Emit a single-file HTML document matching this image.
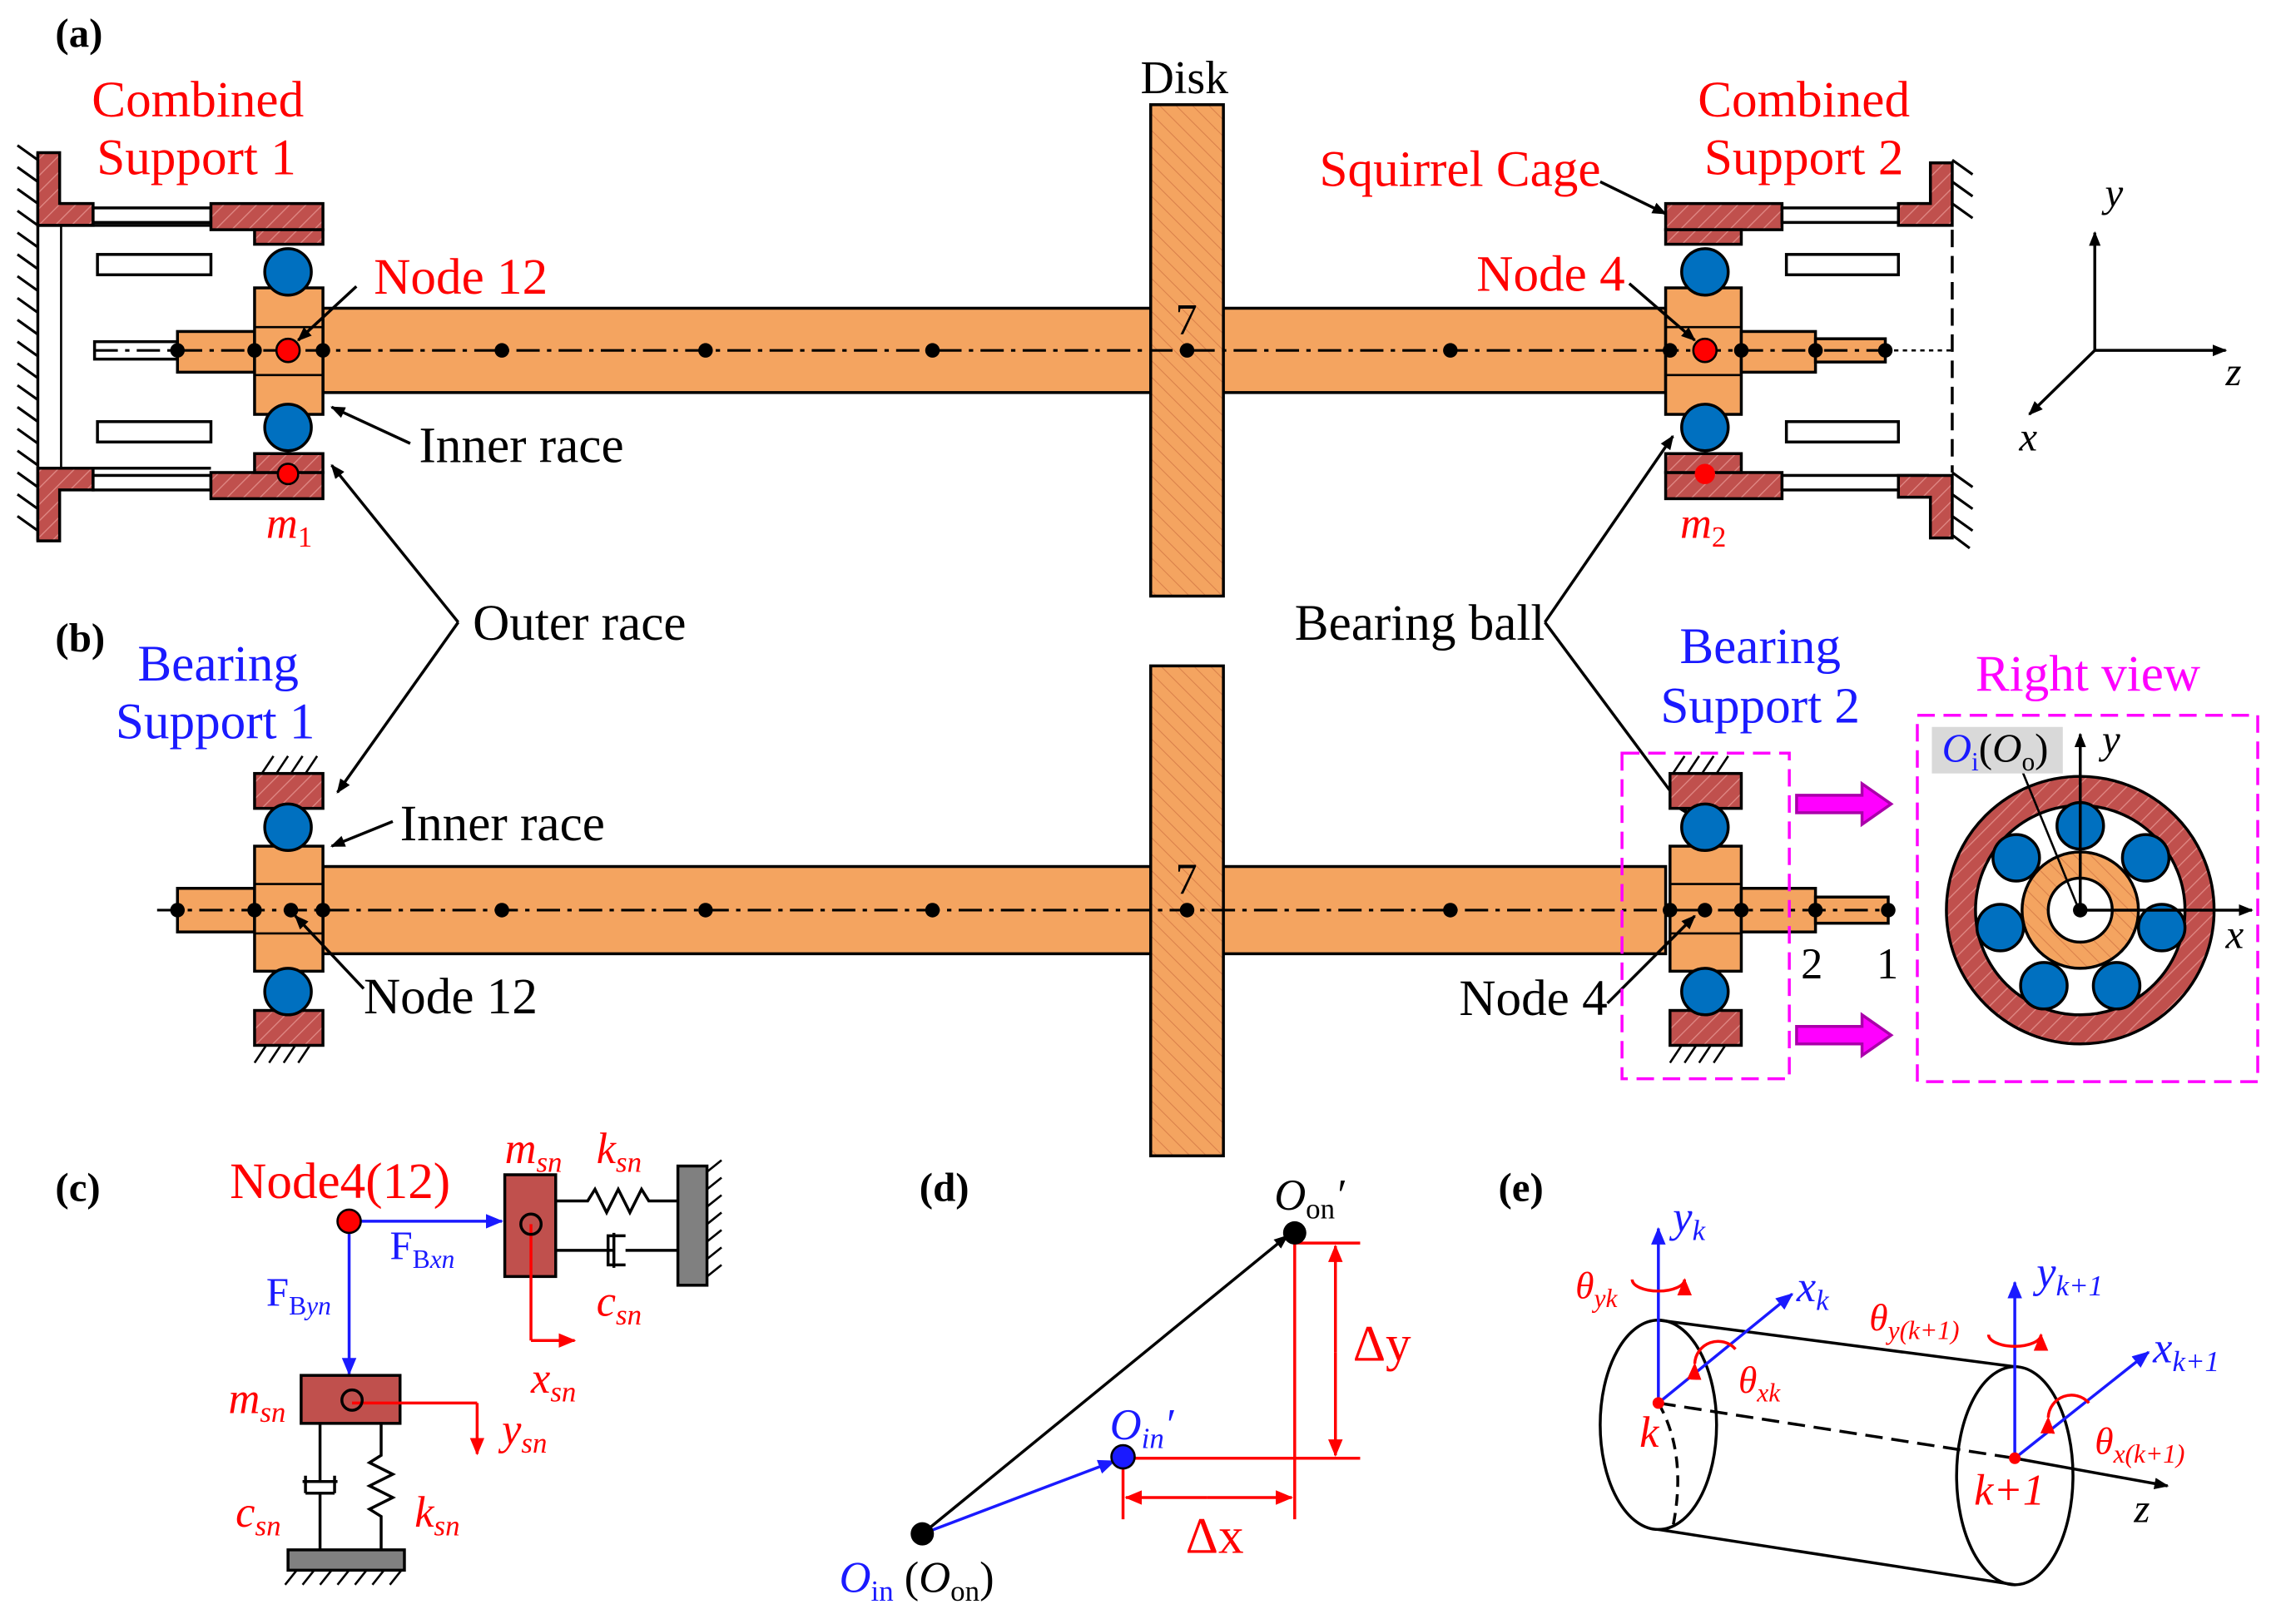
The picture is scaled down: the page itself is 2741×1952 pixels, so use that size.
<!DOCTYPE html>
<html><head><meta charset="utf-8"><style>
html,body{margin:0;padding:0;background:#fff}
svg{display:block}
text{font-family:"Liberation Serif",serif}
</style></head><body>
<svg width="2741" height="1952" viewBox="0 0 1568 1117" preserveAspectRatio="none" xmlns="http://www.w3.org/2000/svg">
<defs>
<pattern id="hb" width="8" height="8" patternUnits="userSpaceOnUse" patternTransform="rotate(45)">
<rect width="8" height="8" fill="#c0504d"/><line x1="0" y1="0" x2="0" y2="8" stroke="#e08a86" stroke-width="1.5"/></pattern>
<pattern id="ho" width="8" height="8" patternUnits="userSpaceOnUse" patternTransform="rotate(-45)">
<rect width="8" height="8" fill="#f4a460"/><line x1="0" y1="0" x2="0" y2="8" stroke="#d9804a" stroke-width="1.2"/></pattern>
<marker id="ak" markerWidth="10" markerHeight="10" refX="9" refY="5" orient="auto" markerUnits="userSpaceOnUse"><path d="M0,1 L10,5 L0,9z" fill="#000"/></marker>
<marker id="ab" markerWidth="12" markerHeight="12" refX="11" refY="6" orient="auto" markerUnits="userSpaceOnUse"><path d="M0,1 L12,6 L0,11z" fill="#1a1aff"/></marker>
<marker id="ar" markerWidth="12" markerHeight="12" refX="11" refY="6" orient="auto" markerUnits="userSpaceOnUse"><path d="M0,1 L12,6 L0,11z" fill="#f00"/></marker>
</defs>
<g stroke="#000" stroke-width="2">
<!-- ===== (a) ===== -->
<line x1="26" y1="105" x2="26" y2="372"/>
<g stroke-width="1.8">
<path d="M12,100 l14,10 M12,115 l14,10 M12,130 l14,10 M12,145 l14,10 M12,160 l14,10 M12,175 l14,10 M12,190 l14,10 M12,205 l14,10 M12,220 l14,10 M12,235 l14,10 M12,250 l14,10 M12,265 l14,10 M12,280 l14,10 M12,295 l14,10 M12,310 l14,10 M12,325 l14,10 M12,340 l14,10 M12,355 l14,10"/>
<path d="M1342,110 l14,10 M1342,125 l14,10 M1342,140 l14,10 M1342,325 l14,10 M1342,340 l14,10 M1342,355 l14,10 M1342,368 l12,9"/>
</g>
<path d="M26,105 h15 v35 h23 v15 h-38z" fill="url(#hb)"/>
<path d="M26,372 h15 v-35 h23 v-15 h-38z" fill="url(#hb)"/>
<line x1="26" y1="155" x2="145" y2="155"/>
<line x1="26" y1="322" x2="145" y2="322"/>
<rect x="64" y="143" width="81" height="10" fill="#fff"/>
<rect x="64" y="327" width="81" height="10" fill="#fff"/>
<rect x="145" y="140" width="77" height="18" fill="url(#hb)"/>
<rect x="145" y="325" width="77" height="18" fill="url(#hb)"/>
<rect x="175" y="158" width="47" height="10" fill="url(#hb)"/>
<rect x="175" y="312" width="47" height="13" fill="url(#hb)"/>
<rect x="67" y="175" width="78" height="14" fill="#fff"/>
<rect x="67" y="290" width="78" height="14" fill="#fff"/>
<rect x="65" y="235" width="57" height="12" fill="#fff"/>
<line x1="42" y1="155" x2="42" y2="322" stroke-width="1.5"/>
<rect x="122" y="228" width="53" height="28" fill="#f4a460"/>
<rect x="222" y="212" width="923" height="58" fill="#f4a460"/>
<rect x="175" y="198" width="47" height="87" fill="#f4a460"/>
<line x1="175" y1="225" x2="222" y2="225" stroke-width="1.5"/><line x1="175" y1="258" x2="222" y2="258" stroke-width="1.5"/>
<rect x="1145" y="198" width="52" height="87" fill="#f4a460"/>
<line x1="1145" y1="225" x2="1197" y2="225" stroke-width="1.5"/><line x1="1145" y1="258" x2="1197" y2="258" stroke-width="1.5"/>
<rect x="1197" y="228" width="51" height="28" fill="#f4a460"/>
<rect x="1248" y="233" width="48" height="16" fill="#f4a460"/>
<rect x="791" y="72" width="50" height="338" fill="url(#ho)"/>
<circle cx="198" cy="187" r="16" fill="#0070c0"/><circle cx="198" cy="294" r="16" fill="#0070c0"/>
<circle cx="1172" cy="187" r="16" fill="#0070c0"/><circle cx="1172" cy="294" r="16" fill="#0070c0"/>
<rect x="1145" y="140" width="80" height="18" fill="url(#hb)"/>
<rect x="1145" y="325" width="80" height="18" fill="url(#hb)"/>
<rect x="1145" y="158" width="52" height="10" fill="url(#hb)"/>
<rect x="1145" y="312" width="52" height="13" fill="url(#hb)"/>
<rect x="1225" y="143" width="100" height="10" fill="#fff"/>
<rect x="1225" y="327" width="100" height="10" fill="#fff"/>
<path d="M1342,112 h-15 v28 h-22 v15 h37z" fill="url(#hb)"/>
<path d="M1342,370 h-15 v-28 h-22 v-15 h37z" fill="url(#hb)"/>
<rect x="1228" y="175" width="77" height="14" fill="#fff"/>
<rect x="1228" y="290" width="77" height="14" fill="#fff"/>
<line x1="1342" y1="158" x2="1342" y2="325" stroke-dasharray="12,6"/>
<line x1="1296" y1="241" x2="1342" y2="241" stroke-dasharray="3,3" stroke-width="1.5"/>
<line x1="65" y1="241" x2="1296" y2="241" stroke-dasharray="16,5,3,5" stroke-width="1.8"/>
<line x1="1440" y1="241" x2="1440" y2="160" marker-end="url(#ak)"/>
<line x1="1440" y1="241" x2="1530" y2="241" marker-end="url(#ak)"/>
<line x1="1440" y1="241" x2="1395" y2="285" marker-end="url(#ak)"/>
<line x1="245" y1="197" x2="205" y2="234" marker-end="url(#ak)"/>
<line x1="282" y1="305" x2="228" y2="280" marker-end="url(#ak)"/>
<line x1="1120" y1="195" x2="1165" y2="234" marker-end="url(#ak)"/>
<line x1="1100" y1="125" x2="1145" y2="147" marker-end="url(#ak)"/>
<line x1="315" y1="428" x2="232" y2="545" marker-end="url(#ak)"/>
<line x1="315" y1="428" x2="228" y2="320" marker-end="url(#ak)"/>
<line x1="1062" y1="428" x2="1150" y2="300" marker-end="url(#ak)"/>
<line x1="1062" y1="428" x2="1160" y2="560" marker-end="url(#ak)"/>

<!-- ===== (b) ===== -->
<rect x="122" y="611" width="53" height="30" fill="#f4a460"/>
<rect x="222" y="596" width="923" height="60" fill="#f4a460"/>
<rect x="175" y="582" width="47" height="86" fill="#f4a460"/>
<line x1="175" y1="608" x2="222" y2="608" stroke-width="1.5"/><line x1="175" y1="642" x2="222" y2="642" stroke-width="1.5"/>
<rect x="1148" y="582" width="49" height="86" fill="#f4a460"/>
<line x1="1148" y1="608" x2="1197" y2="608" stroke-width="1.5"/><line x1="1148" y1="642" x2="1197" y2="642" stroke-width="1.5"/>
<rect x="1197" y="611" width="51" height="30" fill="#f4a460"/>
<rect x="1248" y="617" width="50" height="18" fill="#f4a460"/>
<rect x="791" y="458" width="50" height="337" fill="url(#ho)"/>
<rect x="175" y="532" width="47" height="24" fill="url(#hb)"/><rect x="175" y="695" width="47" height="24" fill="url(#hb)"/>
<rect x="1148" y="532" width="49" height="24" fill="url(#hb)"/><rect x="1148" y="695" width="49" height="24" fill="url(#hb)"/>
<g stroke-width="1.5">
<path d="M175,532 h47 M180,532 l8,-12 M190,532 l8,-12 M200,532 l8,-12 M210,532 l8,-12 M175,719 h47 M175,731 l8,-12 M185,731 l8,-12 M195,731 l8,-12 M205,731 l8,-12"/>
<path d="M1150,532 l8,-12 M1160,532 l8,-12 M1170,532 l8,-12 M1180,532 l8,-12 M1148,731 l8,-12 M1158,731 l8,-12 M1168,731 l8,-12 M1178,731 l8,-12"/>
</g>
<circle cx="198" cy="569" r="16" fill="#0070c0"/><circle cx="198" cy="682" r="16" fill="#0070c0"/>
<circle cx="1172" cy="569" r="16" fill="#0070c0"/><circle cx="1172" cy="682" r="16" fill="#0070c0"/>
<line x1="108" y1="626" x2="1298" y2="626" stroke-dasharray="16,5,3,5" stroke-width="1.8"/>
<line x1="270" y1="565" x2="228" y2="582" marker-end="url(#ak)"/>
<line x1="250" y1="680" x2="203" y2="630" marker-end="url(#ak)"/>
<line x1="1105" y1="690" x2="1165" y2="630" marker-end="url(#ak)"/>
<rect x="1115" y="518" width="115" height="224" fill="none" stroke="#f0f" stroke-dasharray="12,6"/>
<rect x="1318" y="492" width="234" height="252" fill="none" stroke="#f0f" stroke-dasharray="12,6"/>
<path d="M1235,547 h45 v-8 l20,14 l-20,14 v-8 h-45z" fill="#f0f" stroke="#a0a"/>
<path d="M1235,706 h45 v-8 l20,14 l-20,14 v-8 h-45z" fill="#f0f" stroke="#a0a"/>
<circle cx="1430" cy="626" r="92" fill="url(#hb)"/>
<circle cx="1430" cy="626" r="72" fill="#fff"/>
<circle cx="1430" cy="626" r="40" fill="url(#ho)"/>
<circle cx="1430" cy="626" r="22" fill="#fff"/>
<g fill="#0070c0">
<circle cx="1430" cy="568" r="16"/><circle cx="1475" cy="590" r="16"/><circle cx="1486" cy="638" r="16"/><circle cx="1455" cy="678" r="16"/><circle cx="1405" cy="678" r="16"/><circle cx="1375" cy="638" r="16"/><circle cx="1386" cy="590" r="16"/>
</g>
<line x1="1430" y1="626" x2="1430" y2="505" marker-end="url(#ak)"/>
<line x1="1430" y1="626" x2="1548" y2="626" marker-end="url(#ak)"/>
<line x1="1390" y1="530" x2="1428" y2="623" stroke-width="1.5"/>

<!-- ===== (c) ===== -->
<line x1="240" y1="840" x2="345" y2="840" stroke="#1a1aff" marker-end="url(#ab)"/>
<line x1="240" y1="840" x2="240" y2="945" stroke="#1a1aff" marker-end="url(#ab)"/>
<rect x="347" y="808" width="35" height="70" fill="#c0504d"/>
<line x1="365" y1="842" x2="365" y2="922" stroke="#f00"/><line x1="365" y1="922" x2="395" y2="922" stroke="#f00" marker-end="url(#ar)"/>
<path d="M382,826 h22 l5,-8 l8,16 l8,-16 l8,16 l8,-16 l5,8 h21" fill="none"/>
<path d="M382,860 h40 M422,848 v24 M430,850 h-12 v20 h12 M430,860 h36" fill="none"/>
<rect x="466" y="802" width="20" height="82" fill="#808080"/>
<path d="M486,806 l10,-8 M486,818 l10,-8 M486,830 l10,-8 M486,842 l10,-8 M486,854 l10,-8 M486,866 l10,-8 M486,878 l10,-8" stroke-width="1.5"/>
<rect x="207" y="946" width="68" height="33" fill="#c0504d"/>
<line x1="242" y1="965" x2="328" y2="965" stroke="#f00"/><line x1="328" y1="965" x2="328" y2="1000" stroke="#f00" marker-end="url(#ar)"/>
<path d="M220,979 v40 M208,1019 h24 M210,1027 v-12 M230,1027 v-12 M210,1027 h20 M220,1027 v40" fill="none"/>
<path d="M262,979 v22 l-8,5 l16,8 l-16,8 l16,8 l-16,8 l8,5 v23" fill="none"/>
<rect x="198" y="1066" width="80" height="14" fill="#808080"/>
<path d="M204,1080 l-8,10 M216,1080 l-8,10 M228,1080 l-8,10 M240,1080 l-8,10 M252,1080 l-8,10 M264,1080 l-8,10 M276,1080 l-8,10" stroke-width="1.5"/>

<!-- ===== (d) ===== -->
<line x1="634" y1="1055" x2="885" y2="850" marker-end="url(#ak)"/>
<line x1="634" y1="1055" x2="766" y2="1005" stroke="#1a1aff" marker-end="url(#ab)"/>
<line x1="890" y1="848" x2="890" y2="1003" stroke="#f00"/>
<line x1="772" y1="1003" x2="890" y2="1003" stroke="#f00"/>
<line x1="772" y1="1003" x2="772" y2="1045" stroke="#f00"/>
<line x1="890" y1="1003" x2="890" y2="1045" stroke="#f00"/>
<line x1="890" y1="855" x2="935" y2="855" stroke="#f00"/><line x1="890" y1="1003" x2="935" y2="1003" stroke="#f00"/>
<line x1="918" y1="930" x2="918" y2="857" stroke="#f00" marker-end="url(#ar)"/><line x1="918" y1="930" x2="918" y2="1001" stroke="#f00" marker-end="url(#ar)"/>
<line x1="830" y1="1030" x2="774" y2="1030" stroke="#f00" marker-end="url(#ar)"/><line x1="830" y1="1030" x2="888" y2="1030" stroke="#f00" marker-end="url(#ar)"/>

<!-- ===== (e) ===== -->
<line x1="1140" y1="908" x2="1385" y2="940"/>
<line x1="1140" y1="1052" x2="1385" y2="1090"/>
<ellipse cx="1140" cy="980" rx="40" ry="72" fill="none"/>
<ellipse cx="1385" cy="1015" rx="40" ry="75" fill="none"/>
<line x1="1140" y1="965" x2="1385" y2="1003" stroke-dasharray="12,6"/>
<line x1="1385" y1="1003" x2="1490" y2="1022" marker-end="url(#ak)"/>
<line x1="1140" y1="965" x2="1140" y2="845" stroke="#1a1aff" marker-end="url(#ab)"/>
<line x1="1140" y1="965" x2="1232" y2="890" stroke="#1a1aff" marker-end="url(#ab)"/>
<line x1="1385" y1="1003" x2="1385" y2="882" stroke="#1a1aff" marker-end="url(#ab)"/>
<line x1="1385" y1="1003" x2="1477" y2="930" stroke="#1a1aff" marker-end="url(#ab)"/>
<path d="M1122,880 a18,8 0 1 0 36,0" fill="none" stroke="#f00" marker-end="url(#ar)"/>
<path d="M1367,918 a18,8 0 1 0 36,0" fill="none" stroke="#f00" marker-end="url(#ar)"/>
<path d="M1165,938 a16,16 0 0 1 28,-10" fill="none" stroke="#f00" marker-start="url(#ar)"/>
<path d="M1408,975 a16,16 0 0 1 28,-10" fill="none" stroke="#f00" marker-start="url(#ar)"/>
<path d="M1140,965 Q1160,1000 1150,1050" fill="none" stroke-dasharray="8,5"/>
</g>
<g fill="#000">
<circle cx="122" cy="241" r="5"/><circle cx="175" cy="241" r="5"/><circle cx="222" cy="241" r="5"/><circle cx="345" cy="241" r="5"/><circle cx="485" cy="241" r="5"/><circle cx="641" cy="241" r="5"/><circle cx="816" cy="241" r="5"/><circle cx="997" cy="241" r="5"/><circle cx="1148" cy="241" r="5"/><circle cx="1197" cy="241" r="5"/><circle cx="1248" cy="241" r="5"/><circle cx="1296" cy="241" r="5"/>
<circle cx="122" cy="626" r="5"/><circle cx="175" cy="626" r="5"/><circle cx="200" cy="626" r="5"/><circle cx="222" cy="626" r="5"/><circle cx="345" cy="626" r="5"/><circle cx="485" cy="626" r="5"/><circle cx="641" cy="626" r="5"/><circle cx="816" cy="626" r="5"/><circle cx="997" cy="626" r="5"/><circle cx="1148" cy="626" r="5"/><circle cx="1172" cy="626" r="5"/><circle cx="1197" cy="626" r="5"/><circle cx="1248" cy="626" r="5"/><circle cx="1298" cy="626" r="5"/><circle cx="1430" cy="626" r="5"/>
<circle cx="634" cy="1055" r="8"/><circle cx="890" cy="848" r="8"/>
</g>
<circle cx="198" cy="241" r="8" fill="#f00" stroke="#000" stroke-width="1.5"/>
<circle cx="1172" cy="241" r="8" fill="#f00" stroke="#000" stroke-width="1.5"/>
<circle cx="198" cy="326" r="7" fill="#f00" stroke="#000" stroke-width="1.5"/>
<circle cx="1172" cy="326" r="7" fill="#f00"/>
<circle cx="240" cy="840" r="8" fill="#f00" stroke="#000" stroke-width="1.5"/>
<circle cx="365" cy="842" r="7" fill="none" stroke="#000" stroke-width="2"/>
<circle cx="242" cy="963" r="7" fill="none" stroke="#000" stroke-width="2"/>
<circle cx="772" cy="1002" r="8" fill="#1a1aff" stroke="#000" stroke-width="1.5"/>
<circle cx="1140" cy="965" r="4" fill="#f00"/><circle cx="1385" cy="1003" r="4" fill="#f00"/>
<g font-size="35" fill="#f00">
<text x="136" y="80" text-anchor="middle">Combined</text>
<text x="135" y="120" text-anchor="middle">Support 1</text>
<text x="1240" y="80" text-anchor="middle">Combined</text>
<text x="1240" y="120" text-anchor="middle">Support 2</text>
<text x="907" y="128">Squirrel Cage</text>
<text x="257" y="202">Node 12</text>
<text x="1015" y="200">Node 4</text>
<text x="183" y="370" font-style="italic" font-size="30">m<tspan font-size="20" font-style="normal" dy="6">1</tspan></text>
<text x="1155" y="370" font-style="italic" font-size="30">m<tspan font-size="20" font-style="normal" dy="6">2</tspan></text>
<text x="1358" y="475" fill="#f0f">Right view</text>
<text x="158" y="824">Node4(12)</text>
<text x="347" y="800" font-style="italic" font-size="30">m<tspan font-size="20" dy="6">sn</tspan></text>
<text x="410" y="800" font-style="italic" font-size="30">k<tspan font-size="20" dy="6">sn</tspan></text>
<text x="410" y="905" font-style="italic" font-size="30">c<tspan font-size="20" dy="6">sn</tspan></text>
<text x="365" y="958" font-style="italic" font-size="30">x<tspan font-size="20" dy="6">sn</tspan></text>
<text x="157" y="972" font-style="italic" font-size="30">m<tspan font-size="20" dy="6">sn</tspan></text>
<text x="345" y="993" font-style="italic" font-size="30">y<tspan font-size="20" dy="6">sn</tspan></text>
<text x="162" y="1050" font-style="italic" font-size="30">c<tspan font-size="20" dy="6">sn</tspan></text>
<text x="285" y="1050" font-style="italic" font-size="30">k<tspan font-size="20" dy="6">sn</tspan></text>
<text x="930" y="936">Δy</text>
<text x="815" y="1068">Δx</text>
<text x="1083" y="893" font-style="italic" font-size="26">θ<tspan font-size="18" dy="6">yk</tspan></text>
<text x="1195" y="958" font-style="italic" font-size="26">θ<tspan font-size="18" dy="6">xk</tspan></text>
<text x="1285" y="915" font-style="italic" font-size="26">θ<tspan font-size="18" dy="6">y(k+1)</tspan></text>
<text x="1440" y="1000" font-style="italic" font-size="26">θ<tspan font-size="18" dy="6">x(k+1)</tspan></text>
<text x="1127" y="995" font-style="italic" font-size="30">k</text>
<text x="1357" y="1035" font-style="italic" font-size="30">k+1</text>
</g>
<g font-size="35" fill="#1a1aff">
<text x="150" y="468" text-anchor="middle">Bearing</text>
<text x="148" y="508" text-anchor="middle">Support 1</text>
<text x="1210" y="456" text-anchor="middle">Bearing</text>
<text x="1210" y="497" text-anchor="middle">Support 2</text>
<text x="268" y="866" font-size="28">F<tspan font-size="18" dy="6">B<tspan font-style="italic">xn</tspan></tspan></text>
<text x="183" y="898" font-size="28">F<tspan font-size="18" dy="6">B<tspan font-style="italic">yn</tspan></tspan></text>
<text x="1150" y="847" font-style="italic" font-size="30">y<tspan font-size="20" dy="6">k</tspan></text>
<text x="1235" y="895" font-style="italic" font-size="30">x<tspan font-size="20" dy="6">k</tspan></text>
<text x="1400" y="885" font-style="italic" font-size="30">y<tspan font-size="20" dy="6">k+1</tspan></text>
<text x="1480" y="937" font-style="italic" font-size="30">x<tspan font-size="20" dy="6">k+1</tspan></text>
<text x="763" y="990" font-style="italic" font-size="30">O<tspan font-size="20" dy="6">in</tspan><tspan dy="-6">′</tspan></text>
<text x="577" y="1095" font-style="italic" font-size="30">O<tspan font-size="20" dy="6" font-style="normal">in</tspan><tspan dy="-6" fill="#000" font-style="normal"> (</tspan><tspan fill="#000">O</tspan><tspan font-size="20" dy="6" fill="#000" font-style="normal">on</tspan><tspan dy="-6" fill="#000" font-style="normal">)</tspan></text>
</g>
<g font-size="35" fill="#000">
<text x="38" y="32" font-weight="bold" font-size="28">(a)</text>
<text x="38" y="448" font-weight="bold" font-size="28">(b)</text>
<text x="38" y="826" font-weight="bold" font-size="28">(c)</text>
<text x="632" y="826" font-weight="bold" font-size="28">(d)</text>
<text x="1030" y="826" font-weight="bold" font-size="28">(e)</text>
<text x="784" y="64" font-size="32">Disk</text>
<text x="808" y="230" font-size="30">7</text>
<text x="808" y="615" font-size="30">7</text>
<text x="288" y="318">Inner race</text>
<text x="325" y="440">Outer race</text>
<text x="890" y="440">Bearing ball</text>
<text x="275" y="578">Inner race</text>
<text x="250" y="697">Node 12</text>
<text x="1003" y="698">Node 4</text>
<text x="1238" y="673" font-size="30">2</text>
<text x="1290" y="673" font-size="30">1</text>
<text x="1447" y="142" font-style="italic" font-size="28">y</text>
<text x="1530" y="265" font-style="italic" font-size="28">z</text>
<text x="1388" y="310" font-style="italic" font-size="28">x</text>
<text x="1445" y="518" font-style="italic" font-size="28">y</text>
<text x="1530" y="652" font-style="italic" font-size="28">x</text>
<text x="1467" y="1047" font-style="italic" font-size="28">z</text>
<text x="876" y="832" font-style="italic" font-size="30">O<tspan font-size="20" font-style="normal" dy="6">on</tspan><tspan dy="-6">′</tspan></text>
</g>
<rect x="1328" y="500" width="90" height="32" fill="#d9d9d9"/>
<text x="1335" y="524" font-size="28" font-style="italic" fill="#1a1aff">O<tspan font-size="18" dy="6" font-style="normal">i</tspan><tspan dy="-6" fill="#000" font-style="normal">(</tspan><tspan fill="#000">O</tspan><tspan font-size="18" dy="6" fill="#000" font-style="normal">o</tspan><tspan dy="-6" fill="#000" font-style="normal">)</tspan></text>
</svg>
</body></html>
